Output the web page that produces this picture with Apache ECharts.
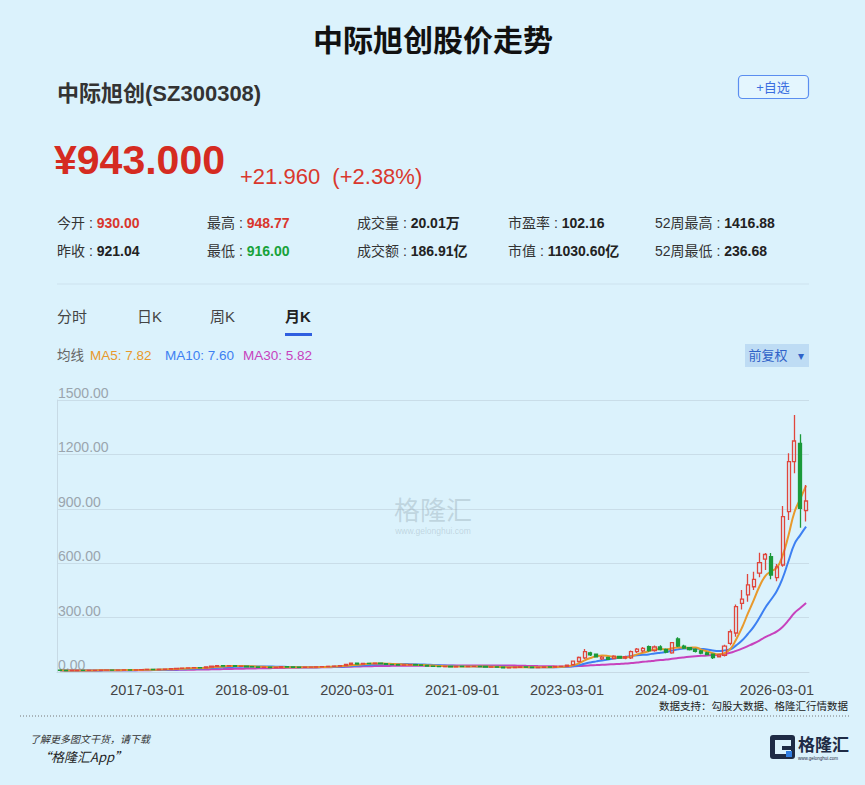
<!DOCTYPE html>
<html>
<head>
<meta charset="utf-8">
<script src="https://cdn.jsdelivr.net/npm/echarts@6/dist/echarts.min.js"></script>
<style>
html,body{margin:0;padding:0;background:#dbf2fc;}
#c{width:865px;height:785px;}
</style>
</head>
<body>
<div id="c"></div>
<script>
// ---- data (monthly K, 2015-12 .. 2026-08) ----
const firstYear = 2015, firstMonth = 12, monthCount = 129;
const months = [];
for (let k = 0; k < monthCount; k++) {
  const m0 = firstMonth - 1 + k;
  const y = firstYear + Math.floor(m0 / 12);
  const m = (m0 % 12) + 1;
  months.push(y + '-' + (m < 10 ? '0' + m : m) + '-01');
}
const openP = [
10.2,9.5,7.8,8.2,9.0,8.6,8.9,9.4,9.8,10.5,10.1,10.8,11.4,10.9,11.6,12.8,14.2,13.5,14.9,16.3,
17.8,19.6,21.0,22.5,24.0,23.2,27.5,31.8,35.6,33.0,34.8,31.5,32.4,29.0,28.2,25.6,26.8,24.5,25.8,28.9,
27.5,26.2,25.0,26.4,27.3,28.5,29.8,31.2,32.5,35.0,41.5,48.6,44.2,47.5,45.8,48.2,46.0,42.3,40.5,38.6,
39.4,40.2,38.5,36.0,32.4,30.8,29.5,31.0,28.6,30.2,29.4,30.8,31.5,30.2,27.0,28.4,26.5,22.8,24.5,26.2,
27.8,26.4,24.0,25.5,28.2,27.6,30.5,31.0,40,58,78,106,98,72,80,74,86,76,78,112,
116,140,118,138,124,106,182,143,134,125,116,106,98,84,92,158,215,378,425,470,
545,622,636,520,590,884,1160,1261,890];
const closeP = [
9.5,7.8,8.2,9.0,8.6,8.9,9.4,9.8,10.5,10.1,10.8,11.4,10.9,11.6,12.8,14.2,13.5,14.9,16.3,17.8,
19.6,21.0,22.5,24.0,23.2,27.5,31.8,35.6,33.0,34.8,31.5,32.4,29.0,28.2,25.6,26.8,24.5,25.8,28.9,27.5,
26.2,25.0,26.4,27.3,28.5,29.8,31.2,32.5,35.0,41.5,48.6,44.2,47.5,45.8,48.2,46.0,42.3,40.5,38.6,39.4,
40.2,38.5,36.0,32.4,30.8,29.5,31.0,28.6,30.2,29.4,30.8,31.5,30.2,27.0,28.4,26.5,22.8,24.5,26.2,27.8,
26.4,24.0,25.5,28.2,27.6,30.5,31.0,38,60,80,112,95,84,82,70,88,77,84,112,126,
130,118,138,124,110,162,143,132,124,114,104,96,80,94,143,222,360,402,480,511,
603,648,535,580,857,1160,1274,903,943];
const lowP = [
8.8,7.2,7.4,8.0,8.3,8.2,8.7,9.1,9.5,9.8,9.9,10.5,10.5,10.6,11.4,12.5,13.0,13.2,14.6,15.9,
17.4,19.0,20.6,22.0,22.5,23.0,27.0,31.0,32.1,32.4,30.8,30.6,28.3,27.1,24.8,25.0,23.8,23.9,25.4,26.8,
25.4,24.2,24.6,25.9,26.8,28.0,29.2,30.5,32.0,34.6,40.2,42.0,43.5,44.6,45.0,44.8,41.5,39.4,37.8,37.5,
38.5,37.6,35.2,31.6,30.0,28.7,28.9,28.0,28.1,28.7,29.0,30.2,29.5,26.3,26.5,25.8,22.0,22.4,24.0,25.8,
25.7,23.4,23.6,25.1,26.8,26.5,28.0,29.5,38,52,72,88,80,66,66,70,73,70,72,105,
108,112,112,118,104,100,138,127,118,108,98,92,72,80,85,148,195,345,388,452,
522,562,511,500,581,838,1096,796,830];
const highP = [
10.8,9.9,8.7,9.5,9.4,9.3,9.9,10.4,11.0,10.9,11.3,12.0,11.8,12.1,13.3,14.8,14.6,15.5,16.9,18.5,
20.3,21.9,23.4,25.1,24.8,28.4,33.0,37.2,36.4,36.0,35.3,33.5,32.8,30.0,28.6,27.7,27.1,26.5,30.2,29.6,
28.0,26.8,27.0,28.1,29.4,30.6,32.0,33.4,36.1,43.0,50.8,49.5,49.0,48.8,50.1,49.4,46.7,43.5,41.2,40.6,
41.5,41.0,39.3,36.5,33.2,31.6,31.8,31.4,30.9,30.8,31.6,32.6,32.0,30.6,29.1,28.9,27.0,25.2,26.9,28.6,
28.3,26.8,26.3,28.8,28.9,32.0,33.0,41,63,86,127,112,102,88,84,92,90,90,118,133,
138,146,146,148,130,166,192,150,138,130,122,112,102,98,150,235,372,452,540,553,
658,656,656,595,915,1206,1417,1311,1031];
const yTicks = [0, 300, 600, 900, 1200, 1500];

// ---- helpers ----
const FONT = "'Liberation Sans','Noto Sans CJK SC',sans-serif";
const CJK = "'Noto Sans CJK SC','Liberation Sans',sans-serif";
const kData = months.map((_, i) => [openP[i], closeP[i], lowP[i], highP[i]]);
function ma(n) {
  return closeP.map((_, i) => {
    const s = Math.max(0, i - n + 1);
    let sum = 0;
    for (let j = s; j <= i; j++) sum += closeP[j];
    return +(sum / (i - s + 1)).toFixed(2);
  });
}
function T(x, y, text, size, color, o) {
  o = o || {};
  return {
    type: 'text', x: x, y: y, z: 10,
    style: {
      text: text, fill: color,
      font: (o.style || 'normal') + ' ' + (o.weight || 'normal') + ' ' + size + 'px ' + (o.family || FONT),
      textAlign: o.align || 'left', align: o.align || 'left',
      textVerticalAlign: 'middle', verticalAlign: 'middle'
    }
  };
}
function R(x, y, label, value, vColor) {
  return {
    type: 'text', x: x, y: y, z: 10,
    style: {
      text: '{l|' + label + ' : }{v|' + value + '}',
      textAlign: 'left', align: 'left', textVerticalAlign: 'middle', verticalAlign: 'middle',
      rich: {
        l: { fontSize: 14, fontFamily: FONT, fill: '#333', color: '#333' },
        v: { fontSize: 14, fontFamily: FONT, fontWeight: 'bold', fill: vColor, color: vColor }
      }
    }
  };
}

const C_MA5 = '#e8992c', C_MA10 = '#3d80f2', C_MA30 = '#c742bd';
const UP = '#e0463c', DOWN = '#1b9a3a';

const graphic = [
  T(433, 38, '中际旭创股价走势', 30, '#111', { weight: 'bold', align: 'center', family: CJK }),
  T(57, 93, '中际旭创(SZ300308)', 22, '#333', { weight: 'bold' }),
  { type: 'rect', z: 9, shape: { x: 738.5, y: 75.5, width: 70, height: 23, r: 4 },
    style: { fill: '#e4f6fe', stroke: '#5b8ef0', lineWidth: 1.2 } },
  T(773, 87, '+自选', 13, '#3a6ee0', { align: 'center' }),
  T(54, 160, '¥943.000', 41, '#d52b21', { weight: 'bold' }),
  T(240, 176, '+21.960  (+2.38%)', 22, '#d9382e'),
  R(57, 223, '今开', '930.00', '#d9362c'),
  R(207, 223, '最高', '948.77', '#d9362c'),
  R(357, 223, '成交量', '20.01万', '#222'),
  R(508, 223, '市盈率', '102.16', '#222'),
  R(655, 223, '52周最高', '1416.88', '#222'),
  R(57, 251, '昨收', '921.04', '#222'),
  R(207, 251, '最低', '916.00', '#17a23a'),
  R(357, 251, '成交额', '186.91亿', '#222'),
  R(508, 251, '市值', '11030.60亿', '#222'),
  R(655, 251, '52周最低', '236.68', '#222'),
  { type: 'line', z: 9, shape: { x1: 57, y1: 284, x2: 809, y2: 284 }, style: { stroke: '#cde2ee', lineWidth: 1 } },
  T(57, 316, '分时', 15, '#444'),
  T(137, 316, '日K', 15, '#444'),
  T(210, 316, '周K', 15, '#444'),
  T(285, 316, '月K', 15, '#222', { weight: 'bold' }),
  { type: 'rect', z: 9, shape: { x: 285, y: 333, width: 27, height: 3 }, style: { fill: '#2f5fe0' } },
  T(57, 355, '均线', 13.5, '#666'),
  T(90, 355, 'MA5: 7.82', 13.5, C_MA5),
  T(165, 355, 'MA10: 7.60', 13.5, C_MA10),
  T(243, 355, 'MA30: 5.82', 13.5, C_MA30),
  { type: 'rect', z: 9, shape: { x: 745, y: 344, width: 64, height: 23 }, style: { fill: '#bedcf4' } },
  T(768, 355.5, '前复权', 13, '#2f62c8', { align: 'center' }),
  T(801, 355.5, '▾', 12, '#2f62c8', { align: 'center' }),
  T(433, 508, '格隆汇', 26, 'rgba(140,158,170,0.35)', { align: 'center', family: CJK }),
  T(433, 531, 'www.gelonghui.com', 8.5, 'rgba(140,158,170,0.35)', { align: 'center' }),
  T(848, 705, '数据支持：勾股大数据、格隆汇行情数据', 10.5, '#222', { align: 'right', family: CJK }),
  { type: 'line', z: 9, shape: { x1: 20, y1: 716, x2: 850, y2: 716 },
    style: { stroke: '#777', lineWidth: 1, lineDash: [1, 2] } },
  T(30, 738, '了解更多图文干货，请下载', 10, '#333', { style: 'italic', family: CJK }),
  T(38, 756, '“格隆汇App”', 13, '#222', { style: 'italic', family: CJK }),
  { type: 'rect', z: 9, shape: { x: 770, y: 735, width: 25, height: 24, r: 3 }, style: { fill: '#1e2b45' } },
  { type: 'rect', z: 10, shape: { x: 775, y: 740, width: 16, height: 14 }, style: { fill: '#dbf2fc' } },
  { type: 'rect', z: 11, shape: { x: 782, y: 746, width: 13, height: 4 }, style: { fill: '#1e2b45' } },
  { type: 'rect', z: 11, shape: { x: 786, y: 751, width: 6, height: 6 }, style: { fill: '#2f7de1' } },
  T(798, 743, '格隆汇', 17, '#1e2b45', { weight: 'bold', family: CJK }),
  T(798, 758, 'www.gelonghui.com', 4.5, '#1e2b45')
];

const chart = echarts.init(document.getElementById('c'), null, { renderer: 'svg' });
chart.setOption({
  backgroundColor: '#dbf2fc',
  animation: false,
  graphic: graphic,
  grid: { left: 57, right: 56, top: 400, bottom: 113 },
  xAxis: {
    type: 'category',
    data: months,
    boundaryGap: true,
    axisLine: { lineStyle: { color: '#c7dae5' } },
    axisTick: {
      alignWithLabel: true,
      interval: function (i) { return (i - 6) % 18 === 0; },
      length: 5,
      lineStyle: { color: '#b9cad4' }
    },
    axisLabel: {
      interval: function (i) { return (i - 15) % 18 === 0; },
      color: '#444', fontSize: 14.5, fontFamily: FONT, margin: 11
    },
    splitLine: { show: false }
  },
  yAxis: {
    type: 'value',
    min: yTicks[0], max: yTicks[yTicks.length - 1], interval: yTicks[1] - yTicks[0],
    axisLine: { show: true, lineStyle: { color: '#c7dae5' } },
    axisTick: { show: false },
    splitLine: { lineStyle: { color: '#c9dde8' } },
    axisLabel: {
      inside: true, margin: 1, verticalAlign: 'bottom',
      color: '#9aa5ae', fontSize: 14, fontFamily: FONT,
      formatter: function (v) { return v.toFixed(2); }
    }
  },
  series: [
    { name: 'MA30', type: 'line', data: ma(30), smooth: true, showSymbol: false, symbol: 'none',
      lineStyle: { width: 2, color: C_MA30 }, itemStyle: { color: C_MA30 }, z: 2 },
    { name: 'MA10', type: 'line', data: ma(10), smooth: true, showSymbol: false, symbol: 'none',
      lineStyle: { width: 2, color: C_MA10 }, itemStyle: { color: C_MA10 }, z: 2 },
    { name: 'MA5', type: 'line', data: ma(5), smooth: true, showSymbol: false, symbol: 'none',
      lineStyle: { width: 2, color: C_MA5 }, itemStyle: { color: C_MA5 }, z: 2 },
    { name: '月K', type: 'candlestick', data: kData, barWidth: '62%', z: 3,
      itemStyle: { color: 'transparent', color0: DOWN, borderColor: UP, borderColor0: DOWN, borderWidth: 1.3 } }
  ]
});
</script>
</body>
</html>
